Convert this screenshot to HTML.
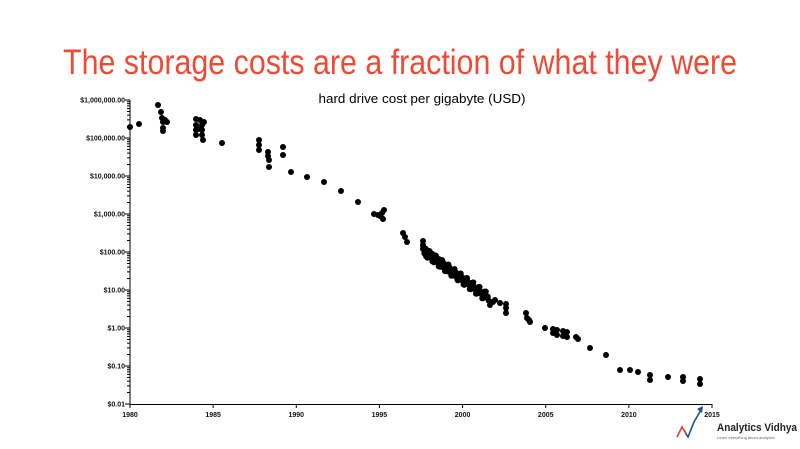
<!DOCTYPE html>
<html><head><meta charset="utf-8"><style>body{margin:0;background:#fff}svg{display:block}</style></head>
<body>
<svg id="s" width="800" height="449" xmlns="http://www.w3.org/2000/svg" font-family="Liberation Sans, sans-serif">
<text x="400" y="74" text-anchor="middle" font-size="35" fill="#ee4a35" textLength="674" lengthAdjust="spacingAndGlyphs">The storage costs are a fraction of what they were</text>
<text x="422" y="103" text-anchor="middle" font-size="13" fill="#000" textLength="207" lengthAdjust="spacingAndGlyphs">hard drive cost per gigabyte (USD)</text>
<g id="ax" stroke="#000" stroke-width="1"></g>
<g id="lbl" font-size="7" font-weight="bold" fill="#111"></g>
<g id="pts" fill="#000"></g>
<g>
<polyline points="677,437 682,427 688,437 694,422 701,410" fill="none" stroke="#1d4f8a" stroke-width="1.6"/>
<polyline points="677,437 682,427 686,433" fill="none" stroke="#e74c3c" stroke-width="1.6"/>
<polygon points="703,406 697,409 702,413" fill="#1d4f8a"/>
<text x="717" y="431" font-size="11" font-weight="bold" fill="#222" textLength="80" lengthAdjust="spacingAndGlyphs">Analytics Vidhya</text>
<text x="717" y="439" font-size="4" fill="#666">Learn everything about analytics</text>
</g>
</svg>
<script>
var ns="http://www.w3.org/2000/svg";
function el(p,t,a,txt){var e=document.createElementNS(ns,t);for(var k in a)e.setAttribute(k,a[k]);if(txt)e.textContent=txt;document.getElementById(p).appendChild(e);}
var X0=130,X1=712,Yb=404,D=38;
el('ax','line',{x1:X0,y1:100,x2:X0,y2:Yb});
el('ax','line',{x1:X0,y1:Yb+0.5,x2:X1,y2:Yb+0.5});
var labs=["$0.01","$0.10","$1.00","$10.00","$100.00","$1,000.00","$10,000.00","$100,000.00","$1,000,000.00"];
for(var i=0;i<9;i++){var y=Yb-i*D;el('lbl','text',{x:125,y:y+2.5,'text-anchor':'end'},labs[i]);
 el('ax','line',{x1:X0-5,y1:y,x2:X0,y2:y});
 if(i<8)for(var m=2;m<10;m++){var yy=y-Math.log10(m)*D;el('ax','line',{x1:X0-3,y1:yy,x2:X0,y2:yy});}}
for(var j=0;j<=7;j++){var x=X0+j*(X1-X0)/7;el('ax','line',{x1:x,y1:Yb,x2:x,y2:Yb+4});el('lbl','text',{x:x,y:Yb+13,'text-anchor':'middle'},String(1980+5*j));}
var P=[[130,127],[139,124],[158,105],[161,112],[162,118],[163,122],[163,128],[163,131],[165,120],[167,122],[196,119],[196,125],[196,130],[196,135],[200,120],[202,125],[202,130],[202,135],[203,140],[198,129],[204,122],[222,143],[259,140],[259,145],[259,150],[268,152],[268,156],[269,160],[269,167],[283,147],[283,155],[291,172],[307,177],[324,182],[341,191],[358,202],[374,214],[378,215],[380,216],[382,213],[383,219],[384,210],[403,233],[405,237],[407,242],[423,241],[423,245],[423,249],[493,302],[495,300],[500,303],[506,304],[506,308],[506,313],[526,313],[527,318],[529,320],[530,322],[545,328],[553,329],[553,333],[557,330],[557,335],[563,331],[563,336],[567,332],[567,337],[576,337],[578,339],[590,348],[606,355],[620,370],[630,370],[638,372],[650,375],[650,380],[668,377],[683,377],[683,381],[700,379],[700,384],[490,305]];
for(var k=0;k<110;k++){var t=k/109;var x=424+t*64+Math.cos(k*1.7)*2;var y=250+t*48+Math.sin(k*2.3)*4;P.push([x,y]);}
P.forEach(function(p){el('pts','circle',{cx:p[0],cy:p[1],r:3});});
</script>
</body></html>
